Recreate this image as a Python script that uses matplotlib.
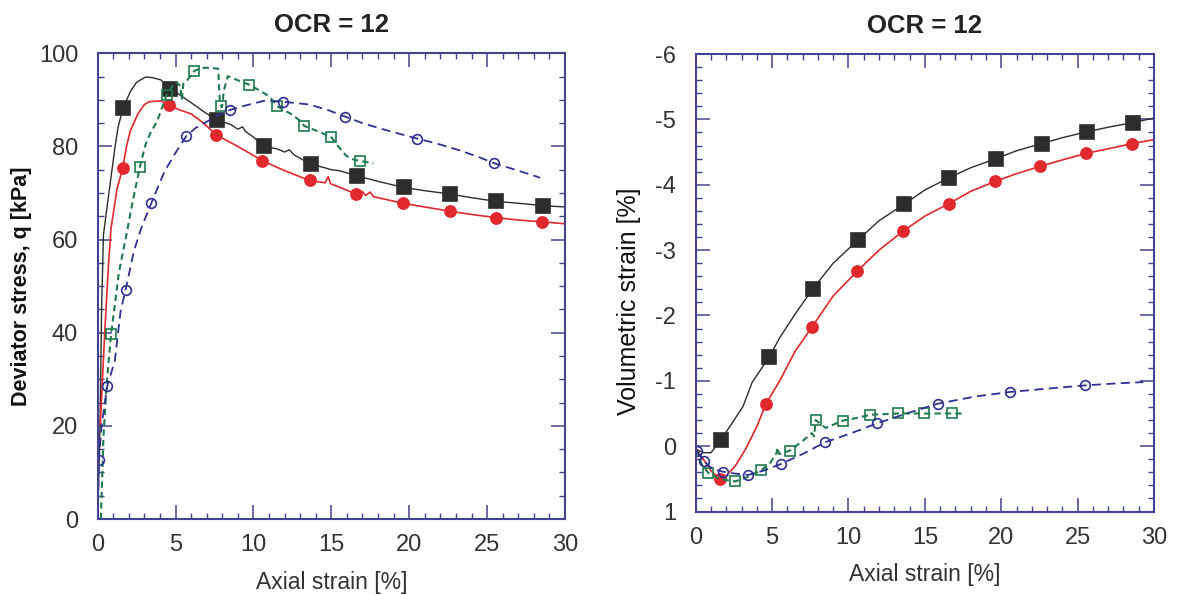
import matplotlib
matplotlib.use("Agg")
import matplotlib.pyplot as plt
from matplotlib.ticker import MultipleLocator

plt.rcParams['font.family'] = ['Liberation Sans', 'DejaVu Sans']
plt.rcParams['axes.unicode_minus'] = False

# ---- left panel: deviator stress vs axial strain ----
blk_q_x = [0, 0.15, 0.25, 0.37, 0.6, 0.8, 1.1, 1.3, 1.62, 2.1, 2.5, 3.07, 3.5, 4.05, 4.66, 5.3, 6.0,
           6.8, 7.66, 8.3, 8.6, 9.0, 9.3, 9.5, 10.0, 10.68, 11.5, 12.0, 12.3, 12.6, 13.67, 14.5, 15.0,
           15.5, 16.65, 18.0, 19.64, 21.0, 22.6, 24.0, 25.6, 27.0, 28.6, 30.0]
blk_q_y = [0, 20, 45, 61, 67, 72, 79.6, 84, 88.2, 91.8, 93.8, 94.9, 94.8, 94.3, 92.4, 91, 89.4,
           87.5, 85.6, 85.0, 84.6, 83.7, 84.2, 83.2, 82, 80, 79.5, 78.8, 79.3, 78.2, 76.2, 75.5, 75,
           74.8, 73.7, 72.5, 71.2, 70.5, 69.8, 69, 68.2, 67.8, 67.3, 67.0]
blk_q_mx = [1.62, 4.66, 7.66, 10.68, 13.67, 16.65, 19.64, 22.6, 25.6, 28.6]
blk_q_my = [88.2, 92.4, 85.6, 80.0, 76.2, 73.7, 71.2, 69.8, 68.2, 67.3]

red_q_x = [0.17, 0.45, 0.7, 0.86, 1.23, 1.6, 1.85, 2.09, 2.58, 3.0, 3.3, 4.05, 4.6, 5.3, 6.0, 6.8,
           7.6, 9.0, 10.6, 12.0, 13.6, 14.6, 14.8, 14.95, 16.6, 17.0, 17.2, 17.5, 17.7, 18.0, 19.6,
           21.0, 22.6, 24.0, 25.6, 27.0, 28.6, 30.0]
red_q_y = [20.4, 40, 55, 62.5, 70.7, 75.3, 80, 83.3, 87, 89, 89.6, 89.8, 88.8, 87.8, 87, 85,
           82.5, 80, 76.9, 74.8, 72.7, 72.2, 73.5, 72, 69.8, 70.3, 69.5, 70.2, 69.2, 69, 67.8,
           67, 66.1, 65.4, 64.7, 64.2, 63.8, 63.4]
red_q_mx = [1.6, 4.59, 7.61, 10.58, 13.63, 16.57, 19.6, 22.6, 25.56, 28.55]
red_q_my = [75.3, 88.8, 82.5, 76.9, 72.7, 69.8, 67.8, 66.1, 64.7, 63.8]

grn_q_x = [0.2, 0.3, 0.37, 0.6, 0.86, 1.1, 1.35, 1.6, 1.84, 2.2, 2.7, 3.07, 3.4, 3.8, 4.1, 4.42,
           4.8, 5.03, 5.3, 5.4, 5.5, 5.77, 6.2, 6.6, 7.0, 7.4, 7.74, 7.8, 7.86, 7.98, 8.1, 8.35,
           9.0, 9.7, 10.3, 10.9, 11.2, 11.54, 12.4, 13.0, 13.26, 14.1, 14.98, 15.35, 15.96,
           16.3, 16.82, 17.7]
grn_q_y = [0, 10, 17.7, 30, 39.7, 46, 52.7, 57, 60.9, 67.4, 75.5, 80.4, 83, 85.3, 88, 91,
           93, 93.9, 93, 90, 93.5, 94.3, 96.2, 96.8, 96.9, 96.8, 96.7, 92, 89, 88.4, 92, 95.1,
           94.2, 93.3, 92.2, 91, 90, 88.6, 87, 85.5, 84.4, 83.3, 82.1, 80.4, 78,
           77.3, 76.9, 76.4]
grn_q_mx = [0.86, 2.7, 4.42, 6.2, 7.93, 9.7, 11.54, 13.26, 14.98, 16.82]
grn_q_my = [39.7, 75.5, 91.0, 96.2, 88.6, 93.3, 88.6, 84.4, 82.1, 76.9]

blu_q_x = [0.0, 0.05, 0.07, 0.25, 0.61, 1.1, 1.47, 1.79, 2.33, 2.8, 3.44, 3.9, 4.3, 5.03, 5.7,
           6.3, 7.0, 7.7, 8.47, 9.5, 10.68, 11.9, 13.6, 14.8, 15.9, 17.0, 18.3, 19.4, 20.5,
           21.8, 23.2, 24.4, 25.46, 27.0, 28.4]
blu_q_y = [0, 8, 12.6, 20, 28.5, 34, 44.6, 49.2, 57.6, 62.5, 67.8, 71.5, 74.7, 78.8, 82.3,
           84, 85.3, 86.7, 87.8, 88.8, 89.8, 89.6, 89, 87.8, 86.4, 85, 83.7, 82.7, 81.7,
           80.6, 79.2, 77.8, 76.4, 74.8, 73.3]
blu_q_mx = [0.07, 0.61, 1.79, 3.44, 5.7, 8.47, 11.9, 15.9, 20.5, 25.46]
blu_q_my = [12.6, 28.5, 49.2, 67.8, 82.3, 87.8, 89.6, 86.4, 81.7, 76.4]

# ---- right panel: volumetric strain vs axial strain ----
blk_v_x = [0.05, 0.5, 1.0, 1.66, 2.46, 3.1, 3.7, 4.8, 5.5, 6.5, 7.67, 9.0, 10.6, 12.0, 13.63,
           15.0, 16.6, 18.0, 19.66, 21.0, 22.65, 24.0, 25.6, 27.0, 28.6, 30.0]
blk_v_y = [0.05, 0.1, 0.1, -0.1, -0.38, -0.61, -0.98, -1.36, -1.66, -2.02, -2.41, -2.8, -3.15,
           -3.45, -3.70, -3.92, -4.11, -4.26, -4.40, -4.52, -4.63, -4.72, -4.81, -4.88, -4.95, -5.02]
blk_v_mx = [1.66, 4.8, 7.67, 10.6, 13.63, 16.6, 19.66, 22.65, 25.6, 28.6]
blk_v_my = [-0.1, -1.36, -2.41, -3.15, -3.70, -4.11, -4.40, -4.63, -4.81, -4.95]

red_v_x = [0.05, 0.5, 1.0, 1.59, 2.0, 2.6, 3.3, 4.0, 4.6, 5.5, 6.5, 7.6, 9.0, 10.58, 12.0, 13.57,
           15.0, 16.57, 18.0, 19.6, 21.0, 22.53, 24.0, 25.56, 27.0, 28.57, 30.0]
red_v_y = [0.05, 0.2, 0.38, 0.5, 0.45, 0.3, 0.03, -0.3, -0.65, -1.0, -1.45, -1.82, -2.3, -2.68,
           -3.0, -3.29, -3.52, -3.71, -3.9, -4.05, -4.17, -4.28, -4.38, -4.48, -4.55, -4.63, -4.69]
red_v_mx = [1.59, 4.59, 7.6, 10.58, 13.57, 16.57, 19.6, 22.53, 25.56, 28.57]
red_v_my = [0.5, -0.64, -1.82, -2.68, -3.29, -3.71, -4.05, -4.28, -4.48, -4.63]

grn_v_x = [0.07, 0.39, 0.83, 1.4, 2.0, 2.57, 3.3, 4.3, 4.9, 5.3, 5.35, 5.45, 6.15, 7.0, 7.6,
           7.75, 7.85, 8.5, 9.62, 10.5, 11.42, 12.3, 13.24, 14.1, 14.95, 15.8, 16.76, 17.6]
grn_v_y = [0.06, 0.28, 0.41, 0.48, 0.52, 0.54, 0.48, 0.37, 0.25, 0.1, 0.02, 0.12, 0.07, -0.08,
           -0.2, -0.15, -0.40, -0.28, -0.39, -0.43, -0.48, -0.49, -0.50, -0.5, -0.50, -0.5, -0.50, -0.5]
grn_v_mx = [0.83, 2.57, 4.3, 6.15, 7.85, 9.62, 11.42, 13.24, 14.95, 16.76]
grn_v_my = [0.41, 0.54, 0.37, 0.07, -0.40, -0.39, -0.48, -0.50, -0.50, -0.50]

blu_v_x = [0.07, 0.3, 0.54, 1.1, 1.76, 2.6, 3.43, 4.5, 5.6, 7.0, 8.47, 10.2, 11.88, 13.8, 15.85,
           18.3, 20.6, 23.0, 25.5, 27.5, 29.3]
blu_v_y = [0.07, 0.15, 0.23, 0.35, 0.39, 0.42, 0.44, 0.37, 0.27, 0.12, -0.06, -0.2, -0.35, -0.5,
           -0.65, -0.76, -0.83, -0.88, -0.93, -0.96, -0.98]
blu_v_mx = [0.07, 0.54, 1.76, 3.43, 5.6, 8.47, 11.88, 15.85, 20.6, 25.5]
blu_v_my = [0.07, 0.23, 0.39, 0.44, 0.27, -0.06, -0.35, -0.65, -0.83, -0.93]

BLACK = '#2d2d2d'
RED = '#e0282d'
GREEN = '#1f7a4d'
BLUE = '#2e3192'
SPINE = '#43438f'
TXT = '#333333'


def style_axes(ax):
    for s in ax.spines.values():
        s.set_color(SPINE)
        s.set_linewidth(1.5)
    ax.tick_params(which='both', direction='in', top=True, right=True, colors=SPINE,
                   labelcolor=TXT, labelsize=17)
    ax.tick_params(axis='x', which='both', pad=11)
    ax.tick_params(axis='y', which='both', pad=14)
    ax.tick_params(which='major', length=10, width=1.1)
    ax.tick_params(which='minor', length=4.5, width=1.0)
    ax.set_xlim(0, 30)
    ax.xaxis.set_major_locator(MultipleLocator(5))
    ax.xaxis.set_minor_locator(MultipleLocator(1))
    ax.set_xlabel('Axial strain [%]', fontsize=16.5, color=TXT, labelpad=10.5)
    ax.set_title('OCR = 12', fontsize=18.5, fontweight='bold', color='#222222', pad=15)


def draw_series(ax, x, y, mx, my, color, ls, lw, marker, ms, filled):
    ax.plot(x, y, color=color, ls=ls, lw=lw)
    ax.plot(mx, my, ls='none', marker=marker, ms=ms, mec=color, mew=1.2,
            mfc=color if filled else 'none')


fig = plt.figure(figsize=(11.77, 5.95), dpi=100)
ax1 = fig.add_axes([0.083, 0.1277, 0.397, 0.7827])
ax2 = fig.add_axes([0.5911, 0.1403, 0.3894, 0.7689])

draw_series(ax1, blk_q_x, blk_q_y, blk_q_mx, blk_q_my, BLACK, '-', 1.0, 's', 9.5, True)
draw_series(ax1, red_q_x, red_q_y, red_q_mx, red_q_my, RED, '-', 1.2, 'o', 8, True)
draw_series(ax1, grn_q_x, grn_q_y, grn_q_mx, grn_q_my, GREEN, (0, (3, 2)), 1.5, 's', 7, False)
draw_series(ax1, blu_q_x, blu_q_y, blu_q_mx, blu_q_my, BLUE, (0, (5, 3)), 1.3, 'o', 7, False)
style_axes(ax1)
ax1.set_ylim(0, 100)
ax1.yaxis.set_major_locator(MultipleLocator(20))
ax1.yaxis.set_minor_locator(MultipleLocator(5))
ax1.set_ylabel('Deviator stress, q [kPa]', fontsize=15.5, fontweight='bold', color='#111111',
               labelpad=5)

draw_series(ax2, blk_v_x, blk_v_y, blk_v_mx, blk_v_my, BLACK, '-', 1.0, 's', 9.5, True)
draw_series(ax2, red_v_x, red_v_y, red_v_mx, red_v_my, RED, '-', 1.2, 'o', 8, True)
draw_series(ax2, grn_v_x, grn_v_y, grn_v_mx, grn_v_my, GREEN, (0, (3, 2)), 1.5, 's', 7, False)
draw_series(ax2, blu_v_x, blu_v_y, blu_v_mx, blu_v_my, BLUE, (0, (5, 3)), 1.3, 'o', 7, False)
style_axes(ax2)
ax2.set_ylim(1, -6)
ax2.yaxis.set_major_locator(MultipleLocator(1))
ax2.yaxis.set_minor_locator(MultipleLocator(0.2))
ax2.set_ylabel('Volumetric strain [%]', fontsize=18, color='#111111', labelpad=7)
ax2.yaxis.set_label_coords(-0.12, 0.46)

fig.savefig('out.png', dpi=100)
